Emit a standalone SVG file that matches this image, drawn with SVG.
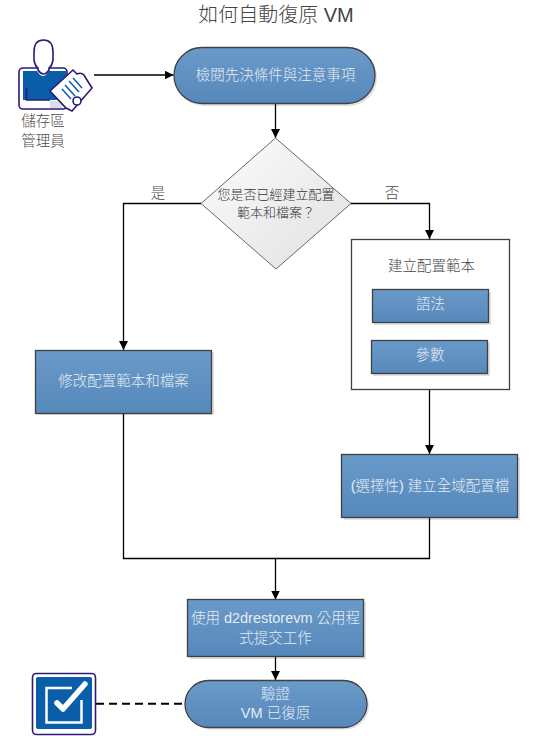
<svg xmlns="http://www.w3.org/2000/svg" width="533" height="736" viewBox="0 0 533 736">
<style>
text{font-family:"Liberation Sans","Noto Sans CJK TC",sans-serif;text-anchor:middle;font-weight:300}
.w{fill:#e4ecf5;font-size:14.500px}
.d{fill:#4a4a4a;font-size:14.500px}
.b{fill:url(#g);stroke:#404040;stroke-width:1.3}
.s{fill:#000;fill-opacity:.12}
.c{fill:none;stroke:#000;stroke-width:1.3}
.p{stroke:#2b1a78;stroke-width:1.6}
</style>
<defs>
<linearGradient id="g" x1="0" y1="0" x2="0" y2="1"><stop offset="0" stop-color="#6a9ac8"/><stop offset="1" stop-color="#5688bb"/></linearGradient>
<linearGradient id="h" x1="0" y1="0" x2="1" y2="1"><stop offset="0" stop-color="#fdfdfd"/><stop offset="1" stop-color="#e0e0e0"/></linearGradient>
<marker id="a" markerWidth="10" markerHeight="10" refX="9" refY="4.500" orient="auto" markerUnits="userSpaceOnUse"><path d="M0 0L9 4.500L0 9Z" fill="#000"/></marker>
</defs>
<text x="276" y="22" style="font-size:20px" fill="#444">如何自動復原 VM</text>
<g id="connectors">
<path class="c" d="M94 75H173.500" marker-end="url(#a)"/>
<path class="c" d="M275.500 103V138" marker-end="url(#a)"/>
<path class="c" d="M201 203.500H123.500V350" marker-end="url(#a)"/>
<path class="c" d="M351 203.500H429.500V239" marker-end="url(#a)"/>
<path class="c" d="M429.500 389V454" marker-end="url(#a)"/>
<path class="c" d="M123.500 414V558.500H429.500V518"/>
<path class="c" d="M275.500 558.500V599.500" marker-end="url(#a)"/>
<path class="c" d="M275.500 657V680" marker-end="url(#a)"/>
<path d="M96 703.800H185" fill="none" stroke="#000" stroke-width="2" stroke-dasharray="8 5"/>
</g>
<g id="admin">
<rect class="p" x="19" y="68" width="48" height="41" rx="4" fill="#fff"/>
<path d="M23 71H37Q43 81 49 71H66V100H23Z" fill="#0a5da8"/>
<path d="M50 101H62V108H50Z" fill="#d9dfe8"/>
<path d="M26.500 88V100H50" fill="none" class="p"/>
<path class="p" d="M34 52Q34 40 43.500 40Q53 40 53 52V60Q52 66 49 68V70Q43.500 78 38 70V68Q35 66 34 60Z" fill="#fff"/>
<path class="p" d="M50 91L73 70L77 74Q81 72 84 75L87 80L92 88L72 111L66 108L50 91Z" fill="#fff"/>
<circle class="p" cx="77" cy="101" r="4" fill="#fff"/>
<path d="M62 89L71 99M65 85L75 96M69 81L79 92M73 78L82 88" stroke="#0a5da8" stroke-width="1.500"/>
<text class="d" x="43" y="126">儲存區</text>
<text class="d" x="43" y="146">管理員</text>
</g>
<g id="review">
<rect class="s" x="176" y="49" width="201" height="57" rx="28"/>
<rect class="b" x="174" y="47.500" width="201" height="56" rx="28"/>
<text class="w" x="275.500" y="79.500">檢閱先決條件與注意事項</text>
</g>
<g id="decision">
<path d="M275.500 138L351 203.500L276 269L201 203.500Z" fill="url(#h)" stroke="#666" stroke-width="1"/>
<text x="276" y="199" style="font-size:13px" fill="#333">您是否已經建立配置</text>
<text x="276" y="217" style="font-size:13px" fill="#333">範本和檔案？</text>
</g>
<text class="d" x="158" y="198">是</text>
<text class="d" x="392" y="198">否</text>
<g id="modify">
<rect class="s" x="38" y="352" width="176" height="63"/>
<rect class="b" x="35.500" y="350.500" width="176" height="63"/>
<text class="w" x="123.500" y="386">修改配置範本和檔案</text>
</g>
<g id="create">
<rect x="351.500" y="239.500" width="158" height="150" fill="#fff" stroke="#404040" stroke-width="1.300"/>
<text class="d" x="431.500" y="271">建立配置範本</text>
</g>
<g id="syntax">
<rect class="s" x="374" y="292" width="117" height="33"/>
<rect class="b" x="372.500" y="289.500" width="116" height="33"/>
<text class="w" x="430.500" y="309">語法</text>
</g>
<g id="params">
<rect class="s" x="373" y="343" width="117" height="33"/>
<rect class="b" x="371.500" y="340.500" width="116" height="33"/>
<text class="w" x="430" y="360">參數</text>
</g>
<g id="global">
<rect class="s" x="344" y="457" width="176" height="63"/>
<rect class="b" x="341.500" y="454.500" width="176" height="63"/>
<text class="w" x="430" y="491">(選擇性) 建立全域配置檔</text>
</g>
<g id="submit">
<rect class="s" x="190" y="602" width="176" height="57"/>
<rect class="b" x="187.500" y="599.500" width="176" height="57"/>
<text class="w" x="275.500" y="623">使用 d2drestorevm 公用程</text>
<text class="w" x="275.500" y="643">式提交工作</text>
</g>
<g id="verify">
<rect class="s" x="187" y="682.500" width="182" height="47" rx="23.500"/>
<rect class="b" x="185" y="680.500" width="182" height="47" rx="23.500"/>
<text class="w" x="275.500" y="699">驗證</text>
<text class="w" x="275.500" y="718">VM 已復原</text>
</g>
<g id="check">
<rect class="p" x="32.500" y="673.500" width="63" height="61" rx="4" fill="#fff"/>
<rect x="36" y="677" width="56" height="52" rx="2" fill="#0a5da8"/>
<path d="M72 688H46.500V722.500H81.500V700" fill="none" stroke="#fff" stroke-width="2.500"/>
<path d="M57 703L63 709L85 684" fill="none" stroke="#fff" stroke-width="5.500" stroke-linecap="round" stroke-linejoin="round"/>
</g>
</svg>
